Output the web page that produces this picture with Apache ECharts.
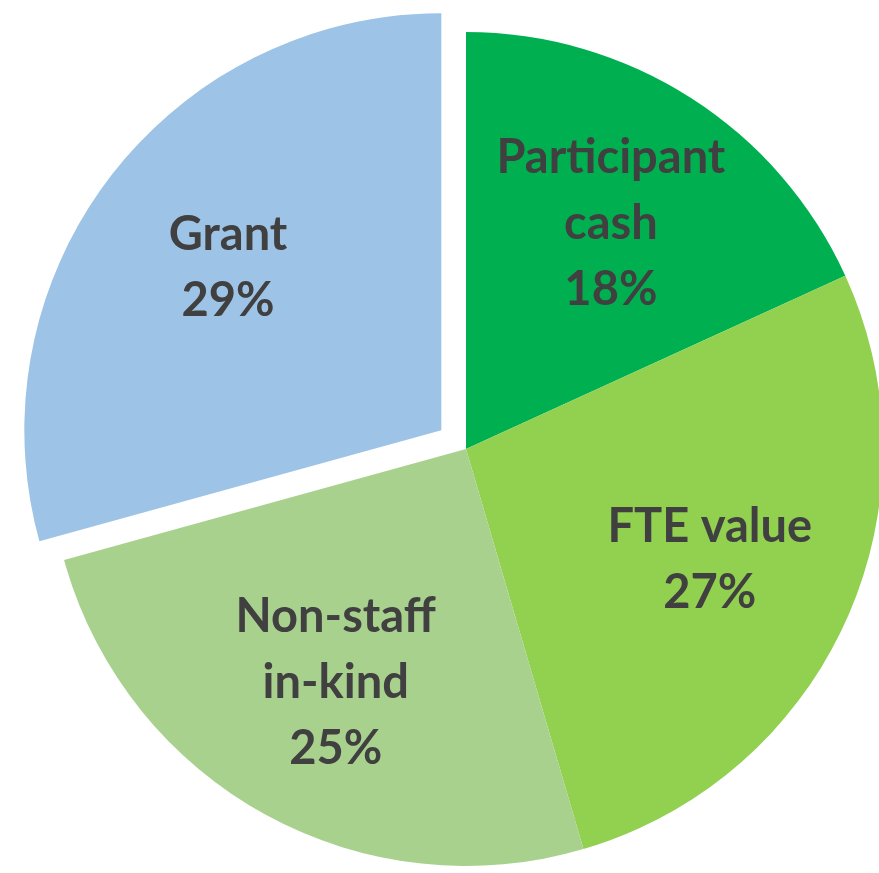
<!DOCTYPE html>
<html>
<head>
<meta charset="utf-8">
<script src="https://cdn.jsdelivr.net/npm/echarts@6/dist/echarts.min.js"></script>
<style>
  html, body { margin: 0; padding: 0; background: #fff; }
  #chart { width: 879px; height: 873px; }
</style>
</head>
<body>
<div id="chart"></div>
<script>
var categories = ["Participant\ncash", "FTE value", "Non-staff\nin-kind", "Grant"];
var values = [18, 27, 25, 29];
var colors = ["#00B050", "#92D050", "#A9D18E", "#9DC3E6"];
var exploded = "Grant";

var chart = echarts.init(document.getElementById("chart"));

var pieData = categories.map(function (name, i) {
  return {
    name: name,
    value: values[i],
    selected: name === exploded,
    itemStyle: { color: colors[i] }
  };
});

// transparent copy, only used to place the labels further out
var labelData = categories.map(function (name, i) {
  return {
    name: name,
    value: values[i],
    selected: name === exploded,
    itemStyle: { color: "rgba(0,0,0,0)" }
  };
});

var option = {
  animation: false,
  series: [
    {
      type: "pie",
      center: [466, 449],
      radius: [0, 417],
      startAngle: 90,
      selectedMode: "single",
      selectedOffset: 31,
      silent: true,
      label: { show: false },
      labelLine: { show: false },
      data: pieData
    },
    {
      type: "pie",
      center: [466, 449],
      radius: [0, 530],
      startAngle: 90,
      selectedMode: "single",
      selectedOffset: 31,
      silent: true,
      z: 3,
      label: {
        show: true,
        position: "inside",
        formatter: function (p) {
          return p.name + "\n" + p.value + "%";
        },
        color: "#404040",
        fontFamily: "Lato",
        fontWeight: "bold",
        fontSize: 47,
        lineHeight: 66
      },
      labelLine: { show: false },
      data: labelData
    }
  ]
};

chart.setOption(option);
</script>
</body>
</html>
